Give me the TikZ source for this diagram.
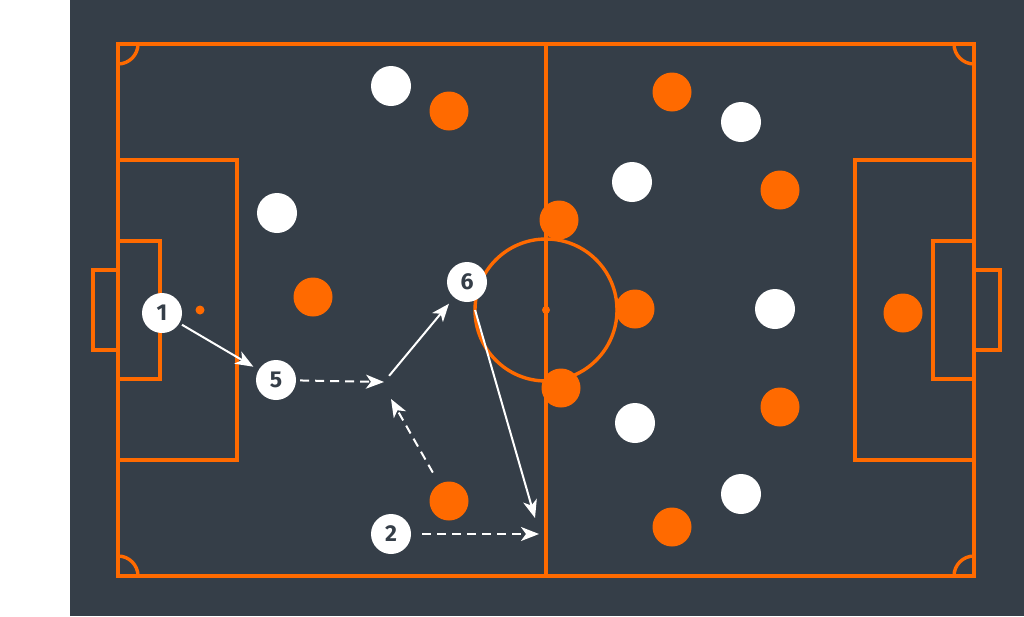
\documentclass[tikz,border=0pt]{standalone}
\usepackage{fontspec}
\setmainfont{Fira Sans}
\usetikzlibrary{arrows.meta}

\definecolor{pitchbg}{HTML}{353E48}
\definecolor{lineor}{HTML}{FF6A00}

\tikzset{
  pline/.style={draw=lineor,line width=3.4pt},
  wpl/.style={circle,fill=white,minimum size=40pt,inner sep=0pt,text=pitchbg,
    font=\bfseries\fontsize{23}{23}\selectfont},
  opl/.style={circle,fill=lineor,minimum size=39pt,inner sep=0pt},
  pass/.style={->,white,line width=2pt},
  run/.style={pass,dash pattern=on 9pt off 6pt}
}

\begin{document}
\begin{tikzpicture}
  [x=1pt,y=-1pt,>={Stealth[length=18pt,width=14pt,inset=5pt]}]
  \useasboundingbox (0,0) rectangle (1024,616);
  \fill[pitchbg] (70,0) rectangle (1024,616);

  % pitch
  \draw[pline] (118,44) rectangle (974,576);
  \draw[pline] (546,44) -- (546,576);
  \draw[pline] (546,310) circle (71);
  \fill[lineor] (546,310) circle (4);
  \fill[lineor] (200,310) circle (4.5);
  \draw[pline] (118,160) rectangle (237,460);
  \draw[pline] (118,241) rectangle (160,379);
  \draw[pline] (93,270) rectangle (118,350);
  \draw[pline] (974,160) rectangle (855,460);
  \draw[pline] (974,241) rectangle (933,379);
  \draw[pline] (1000,270) rectangle (974,350);
  \draw[pline] (138,44) arc[start angle=0,end angle=90,radius=20];
  \draw[pline] (954,44) arc[start angle=180,end angle=90,radius=20];
  \draw[pline] (118,556) arc[start angle=-90,end angle=0,radius=20];
  \draw[pline] (954,576) arc[start angle=180,end angle=270,radius=20];

  % white team
  \node[wpl] (p1) at (162,313) {1};
  \node[wpl] (p5) at (276,380) {5};
  \node[wpl] (p6) at (467,282) {6};
  \node[wpl] (p2) at (391,534) {2};
  \node[wpl] (wa) at (391,86) {};
  \node[wpl] (wb) at (277,213) {};
  \node[wpl] (wc) at (741,122) {};
  \node[wpl] (wd) at (632,182) {};
  \node[wpl] (we) at (775,309) {};
  \node[wpl] (wf) at (635,423) {};
  \node[wpl] (wg) at (741,494) {};

  % orange team
  \node[opl] (oa) at (449,111) {};
  \node[opl] (ob) at (313,297) {};
  \node[opl] (oc) at (559,220) {};
  \node[opl] (od) at (561,388) {};
  \node[opl] (oe) at (449,501) {};
  \node[opl] (of) at (672,92) {};
  \node[opl] (og) at (780,190) {};
  \node[opl] (oh) at (635,309) {};
  \node[opl] (oi) at (780,407) {};
  \node[opl] (oj) at (672,527) {};
  \node[opl] (ok) at (903,313) {};

  % moves
  \coordinate (kp) at (384,382);
  \coordinate (kq) at (391,399);
  \coordinate (kr) at (535,518);
  \coordinate (ks) at (539,534);
  \draw[pass,shorten <=3pt,shorten >=6pt] (p1) -- (p5);
  \draw[run,shorten <=4pt] (p5) -- (kp);
  \draw[pass,shorten <=8pt,shorten >=8pt] (kp) -- (p6);
  \draw[pass,shorten <=9pt] (p6) -- (kr);
  \draw[run,shorten <=13pt] (oe) -- (kq);
  \draw[run,shorten <=11pt] (p2) -- (ks);
\end{tikzpicture}
\end{document}
